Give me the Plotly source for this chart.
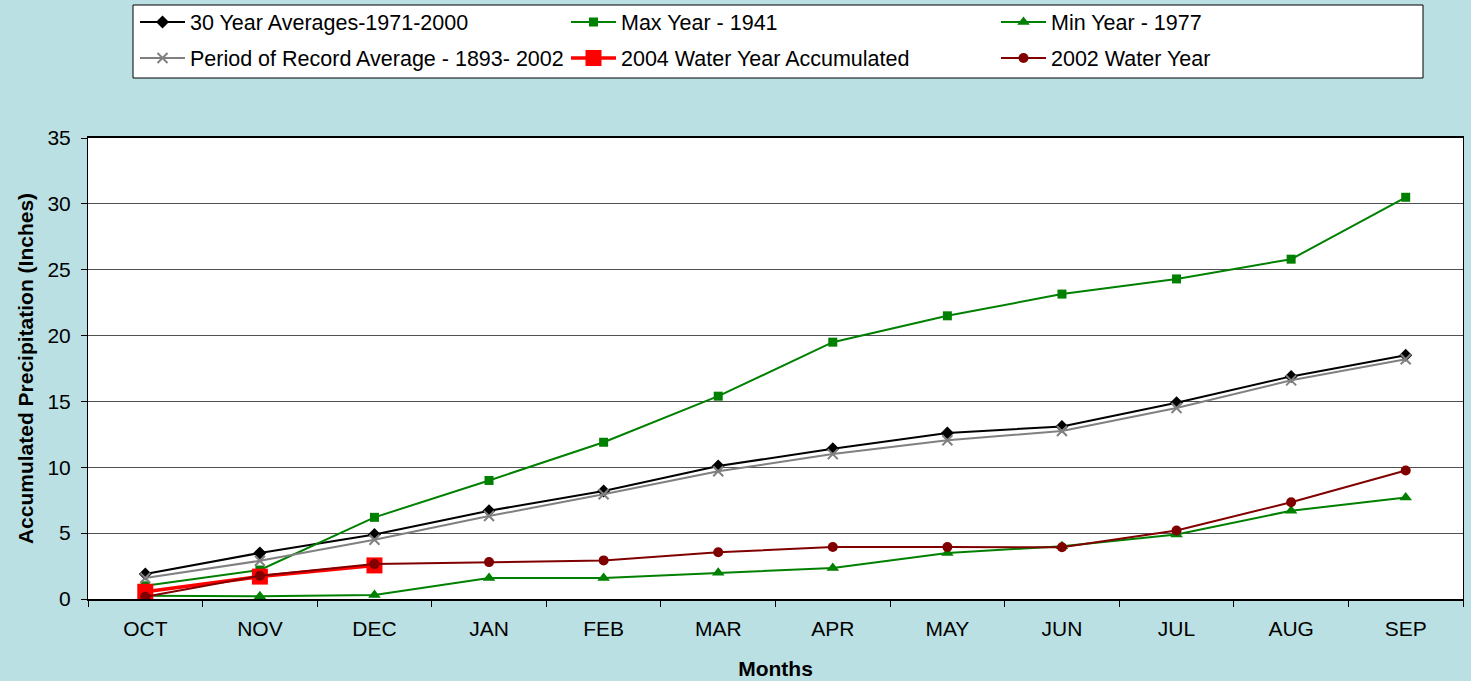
import plotly.graph_objects as go

months = ["OCT", "NOV", "DEC", "JAN", "FEB", "MAR", "APR", "MAY", "JUN", "JUL", "AUG", "SEP"]
avg_30yr = [1.9, 3.5, 4.9, 6.7, 8.2, 10.1, 11.4, 12.6, 13.1, 14.9, 16.9, 18.5]
max_1941 = [1.0, 2.2, 6.2, 9.0, 11.9, 15.4, 19.5, 21.5, 23.15, 24.3, 25.8, 30.5]
min_1977 = [0.25, 0.2, 0.3, 1.6, 1.6, 2.0, 2.35, 3.5, 4.0, 4.9, 6.7, 7.7]
por_avg = [1.6, 2.9, 4.5, 6.3, 7.95, 9.7, 11.0, 12.05, 12.75, 14.5, 16.6, 18.2]
wy_2004 = [0.55, 1.7, 2.55]
wy_2002 = [0.17, 1.77, 2.65, 2.8, 2.93, 3.55, 3.95, 3.95, 3.93, 5.2, 7.35, 9.75]

BG = "#BBE0E3"
FONT = "Liberation Sans, Arial, sans-serif"
FS = 21
LFS = 21.5

W, H = 1471, 681
L, R, T, B = 88, 8, 138, 82
pw = W - L - R
ph = H - T - B

def px2paper_x(px):
    return (px - L) / pw

def px2paper_y(py):
    return (H - B - py) / ph

fig = go.Figure()
fig.add_trace(go.Scatter(x=months, y=avg_30yr, name="30 Year Averages-1971-2000",
                         mode="lines+markers", line=dict(color="black", width=2),
                         marker=dict(symbol="diamond", size=10, color="black"),
                         legend="legend"))
fig.add_trace(go.Scatter(x=months, y=max_1941, name="Max Year - 1941",
                         mode="lines+markers", line=dict(color="#008000", width=2),
                         marker=dict(symbol="square", size=9, color="#008000"),
                         legend="legend2"))
fig.add_trace(go.Scatter(x=months, y=min_1977, name="Min Year - 1977",
                         mode="lines+markers", line=dict(color="#008000", width=2),
                         marker=dict(symbol="triangle-up", size=11, color="#008000"),
                         legend="legend3"))
fig.add_trace(go.Scatter(x=months, y=por_avg, name="Period of Record Average - 1893- 2002",
                         mode="lines+markers", line=dict(color="#808080", width=2),
                         marker=dict(symbol="x-thin", size=10, color="#808080",
                                     line=dict(color="#808080", width=2)),
                         legend="legend4"))
fig.add_trace(go.Scatter(x=months[:len(wy_2004)], y=wy_2004, name="2004 Water Year Accumulated",
                         mode="lines+markers", line=dict(color="#FF0000", width=3.5),
                         marker=dict(symbol="square", size=16, color="#FF0000"),
                         legend="legend5"))
fig.add_trace(go.Scatter(x=months, y=wy_2002, name="2002 Water Year",
                         mode="lines+markers", line=dict(color="#800000", width=2),
                         marker=dict(symbol="circle", size=10, color="#800000"),
                         legend="legend6"))

fig.add_shape(type="rect", xref="paper", yref="paper",
              x0=px2paper_x(133), x1=px2paper_x(1423),
              y0=px2paper_y(78), y1=px2paper_y(5),
              fillcolor="white", line=dict(color="black", width=1), layer="below")

IW = 45

def leg(text_x, ypx):
    return dict(orientation="h", x=px2paper_x(text_x - 10 - IW), xanchor="left",
                y=px2paper_y(ypx), yanchor="middle",
                bgcolor="rgba(0,0,0,0)", borderwidth=0,
                itemwidth=IW, font=dict(size=LFS, family=FONT), traceorder="normal")

col_text_x = [190, 621, 1051]
row_y = [22, 58]

fig.update_layout(
    width=W, height=H,
    margin=dict(l=L, r=R, t=T, b=B, autoexpand=False),
    paper_bgcolor=BG, plot_bgcolor="white",
    font=dict(family=FONT, size=FS, color="black"),
    showlegend=True,
    legend=leg(col_text_x[0], row_y[0]),
    legend2=leg(col_text_x[1], row_y[0]),
    legend3=leg(col_text_x[2], row_y[0]),
    legend4=leg(col_text_x[0], row_y[1]),
    legend5=leg(col_text_x[1], row_y[1]),
    legend6=leg(col_text_x[2], row_y[1]),
    xaxis=dict(type="category", categoryorder="array", categoryarray=months,
               showline=True, linecolor="black", linewidth=2, mirror=True,
               ticks="outside", ticklen=6, tickcolor="black", tickson="boundaries",
               showgrid=False, ticklabelstandoff=10, automargin=False,
               title=dict(text="<b>Months</b>", font=dict(size=FS), standoff=22),
               range=[-0.5, 11.5]),
    yaxis=dict(range=[0, 35], dtick=5, showline=True, linecolor="black", linewidth=1,
               mirror=True, ticks="outside", ticklen=6, tickcolor="black",
               showgrid=True, gridcolor="#505050", gridwidth=1, zeroline=False,
               ticklabelstandoff=6, automargin=False,
               title=dict(text="<b>Accumulated Precipitation (Inches)</b>",
                          font=dict(size=FS), standoff=8)),
)

fig.write_html("out.html", config={"displayModeBar": False},
               post_script="document.body.style.margin='0';document.body.style.overflow='hidden';")
